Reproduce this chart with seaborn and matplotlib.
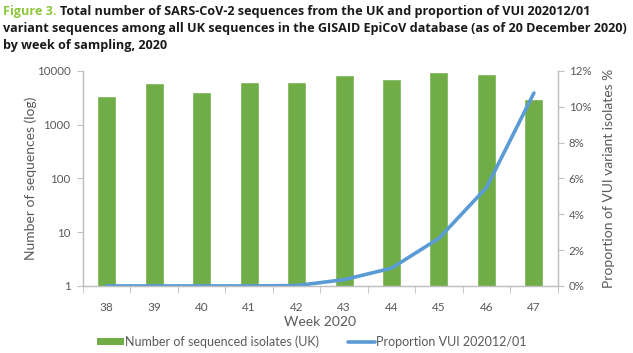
import numpy as np
import pandas as pd
import matplotlib
matplotlib.use('Agg')
import matplotlib.pyplot as plt
import seaborn as sns
from matplotlib.ticker import FixedLocator, NullFormatter
from matplotlib.patches import Patch
from matplotlib.lines import Line2D

weeks = ['38', '39', '40', '41', '42', '43', '44', '45', '46', '47']
n_sequences = [3360, 5870, 4000, 6350, 6350, 8300, 6950, 9570, 8680, 3040]
prop_vui = [0.0, 0.0, 0.0, 0.0, 0.02, 0.35, 0.99, 2.66, 5.49, 10.77]

title_green = 'Figure 3. '
title_lines = ['Total number of SARS-CoV-2 sequences from the UK and proportion of VUI 202012/01',
               'variant sequences among all UK sequences in the GISAID EpiCoV database (as of 20 December 2020)',
               'by week of sampling, 2020']

green = '#70AD47'
blue = '#5B9BD5'
grey = '#595959'
axis_grey = '#BFBFBF'

sns.set_style('white')
plt.rcParams['font.family'] = ['Lato', 'DejaVu Sans']

df = pd.DataFrame({'Week': weeks, 'Sequences': n_sequences, 'Proportion': prop_vui})
df['pos'] = np.arange(len(df))

fig = plt.figure(figsize=(6.33, 3.53), dpi=100)
ax = fig.add_axes([0.131, 0.19, 0.75, 0.609])
ax.set_yscale('log')
sns.barplot(data=df, x='Week', y='Sequences', color=green, width=0.4,
            saturation=1, ax=ax)
ax.set_ylim(1, 10000)
ax.set_xlim(-0.5, len(weeks) - 0.5)

ax2 = ax.twinx()
sns.lineplot(data=df, x='pos', y='Proportion', color=blue, linewidth=2.6, ax=ax2)
ax2.set_ylim(0, 12)
ax2.set_xlim(-0.5, len(weeks) - 0.5)

# left axis
ax.yaxis.set_major_locator(FixedLocator([1, 10, 100, 1000, 10000]))
ax.yaxis.set_minor_locator(FixedLocator([]))
ax.set_yticklabels(['1', '10', '100', '1000', '10000'])
ax.tick_params(axis='y', which='major', left=True, length=4, color=axis_grey,
               labelsize=8.3, labelcolor=grey, pad=5)
ax.set_ylabel('Number of sequences (log)', fontsize=10, color=grey, labelpad=0)

# x axis: ticks at category boundaries
ax.xaxis.set_minor_locator(FixedLocator(np.arange(len(weeks) + 1) - 0.5))
ax.xaxis.set_minor_formatter(NullFormatter())
ax.tick_params(axis='x', which='major', bottom=False, labelsize=8.5,
               labelcolor=grey, pad=8)
ax.tick_params(axis='x', which='minor', bottom=True, length=5, color=axis_grey)
ax.set_xlabel('Week 2020', fontsize=10, color=grey, labelpad=2)

# right axis
ax2.set_yticks(range(0, 13, 2))
ax2.set_yticklabels([f'{v}%' for v in range(0, 13, 2)])
ax2.tick_params(axis='y', right=True, length=4, color=axis_grey,
                labelsize=8.3, labelcolor=grey, pad=4)
ax2.set_ylabel('Proportion of VUI variant isolates %', fontsize=10, color=grey,
               labelpad=8)
ax2.set_xlabel('')

for a in (ax, ax2):
    a.spines['top'].set_visible(False)
    for s in ('left', 'right', 'bottom'):
        a.spines[s].set_color(axis_grey)
        a.spines[s].set_linewidth(0.9)

# legend
handles = [Patch(facecolor=green, edgecolor='none'),
           Line2D([0], [0], color=blue, linewidth=2.6)]
labels = ['Number of sequenced isolates (UK)', 'Proportion VUI 202012/01']
fig.legend(handles, labels, loc='lower left', bbox_to_anchor=(0.135, -0.018),
           ncol=2, frameon=False, fontsize=9, labelcolor=grey,
           handlelength=2.2, handleheight=0.5, handletextpad=0.1,
           columnspacing=2.25)

# title
title_kw = dict(fontsize=10, fontweight='bold', family='Open Sans',
                va='center', ha='left')
fig.canvas.draw()
probe = fig.text(0.005, 0.5, title_lines[1], **title_kw)
fig.canvas.draw()
w = probe.get_window_extent().width
probe.remove()
fs = 10 * 626 / w
title_kw['fontsize'] = fs
ys = [1 - 12 / 353, 1 - 28.5 / 353, 1 - 45 / 353]
t = fig.text(0.005, ys[0], title_green, color='#8DC63F', **title_kw)
fig.canvas.draw()
x2 = t.get_window_extent().x1 / fig.bbox.width
fig.text(x2, ys[0], title_lines[0], color='#1A1A1A', **title_kw)
fig.text(0.005, ys[1], title_lines[1], color='#1A1A1A', **title_kw)
fig.text(0.005, ys[2], title_lines[2], color='#1A1A1A', **title_kw)

fig.savefig('out.png', dpi=100)
